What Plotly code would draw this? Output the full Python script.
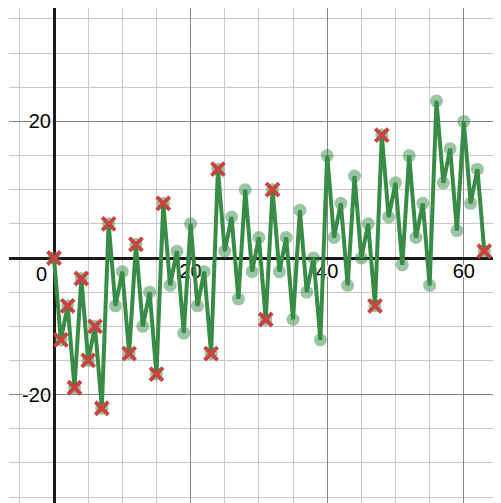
import plotly.graph_objects as go

# data
x_vals = [0, 1, 2, 3, 4, 5, 6, 7, 8, 9, 10, 11, 12, 13, 14, 15,
          16, 17, 18, 19, 20, 21, 22, 23, 24, 25, 26, 27, 28, 29, 30, 31,
          32, 33, 34, 35, 36, 37, 38, 39, 40, 41, 42, 43, 44, 45, 46, 47,
          48, 49, 50, 51, 52, 53, 54, 55, 56, 57, 58, 59, 60, 61, 62, 63]
y_vals = [0, -12, -7, -19, -3, -15, -10, -22, 5, -7, -2, -14, 2, -10, -5, -17,
          8, -4, 1, -11, 5, -7, -2, -14, 13, 1, 6, -6, 10, -2, 3, -9,
          10, -2, 3, -9, 7, -5, 0, -12, 15, 3, 8, -4, 12, 0, 5, -7,
          18, 6, 11, -1, 15, 3, 8, -4, 23, 11, 16, 4, 20, 8, 13, 1]
marked_idx = [0, 1, 2, 3, 4, 5, 6, 7, 8, 11, 12, 15, 16, 23, 24, 31, 32, 47, 48, 63]
x_ticks = [20, 40, 60]
x_ticklabels = ["20", "40", "60"]
y_ticks = [-20, 20]
y_ticklabels = ["-20", "20"]
origin_label = "0"

GREEN = "#388c46"
RED = "#c74440"

mx = [x_vals[i] for i in marked_idx]
my = [y_vals[i] for i in marked_idx]

fig = go.Figure()
fig.add_trace(go.Scatter(x=x_vals, y=y_vals, mode="markers",
                         marker=dict(symbol="circle", size=13, color=GREEN, opacity=0.5,
                                     line=dict(width=0)),
                         hoverinfo="skip", showlegend=False))
fig.add_trace(go.Scatter(x=x_vals, y=y_vals, mode="lines",
                         line=dict(color=GREEN, width=4),
                         showlegend=False))
fig.add_trace(go.Scatter(x=mx, y=my, mode="markers",
                         marker=dict(symbol="x-thin", size=13, color=RED,
                                     line=dict(color=RED, width=4)),
                         showlegend=False))

xr = [-6.59, 66.62]
yr = [-37.04, 36.60]
halo = "2px 0px 1px white, -2px 0px 1px white, 0px 2px 1px white, 0px -2px 1px white"
tickfont = dict(family="Liberation Sans, Arial, sans-serif", size=20, color="black", shadow=halo)

fig.update_layout(
    width=501, height=503,
    margin=dict(l=1, r=0, t=0, b=0, autoexpand=False),
    paper_bgcolor="white", plot_bgcolor="white",
    xaxis=dict(range=xr, tickmode="array", tickvals=x_ticks, ticktext=x_ticklabels,
               showgrid=True, gridcolor="#858585", gridwidth=1.2,
               minor=dict(tickmode="linear", tick0=0, dtick=5, showgrid=True,
                          gridcolor="#c8c8c8", gridwidth=1.2),
               zeroline=True, zerolinecolor="#1a1a1a", zerolinewidth=2.6,
               showline=False, ticks="", anchor="free",
               position=(0 - yr[0]) / (yr[1] - yr[0]),
               ticklabelstandoff=-1,
               tickfont=tickfont, layer="below traces", fixedrange=True),
    yaxis=dict(range=yr, tickmode="array", tickvals=y_ticks, ticktext=y_ticklabels,
               showgrid=True, gridcolor="#858585", gridwidth=1.2,
               minor=dict(tickmode="linear", tick0=0, dtick=5, showgrid=True,
                          gridcolor="#c8c8c8", gridwidth=1.2),
               zeroline=True, zerolinecolor="#1a1a1a", zerolinewidth=2.6,
               showline=False, ticks="", anchor="free",
               position=(0 - xr[0]) / (xr[1] - xr[0]),
               ticklabelstandoff=3,
               tickfont=tickfont, layer="below traces", fixedrange=True),
    annotations=[dict(x=0, y=0, xref="x", yref="y", text=origin_label, showarrow=False,
                      xanchor="right", yanchor="top", xshift=-5, yshift=-3,
                      font=tickfont)],
)

fig.write_html("out.html")
